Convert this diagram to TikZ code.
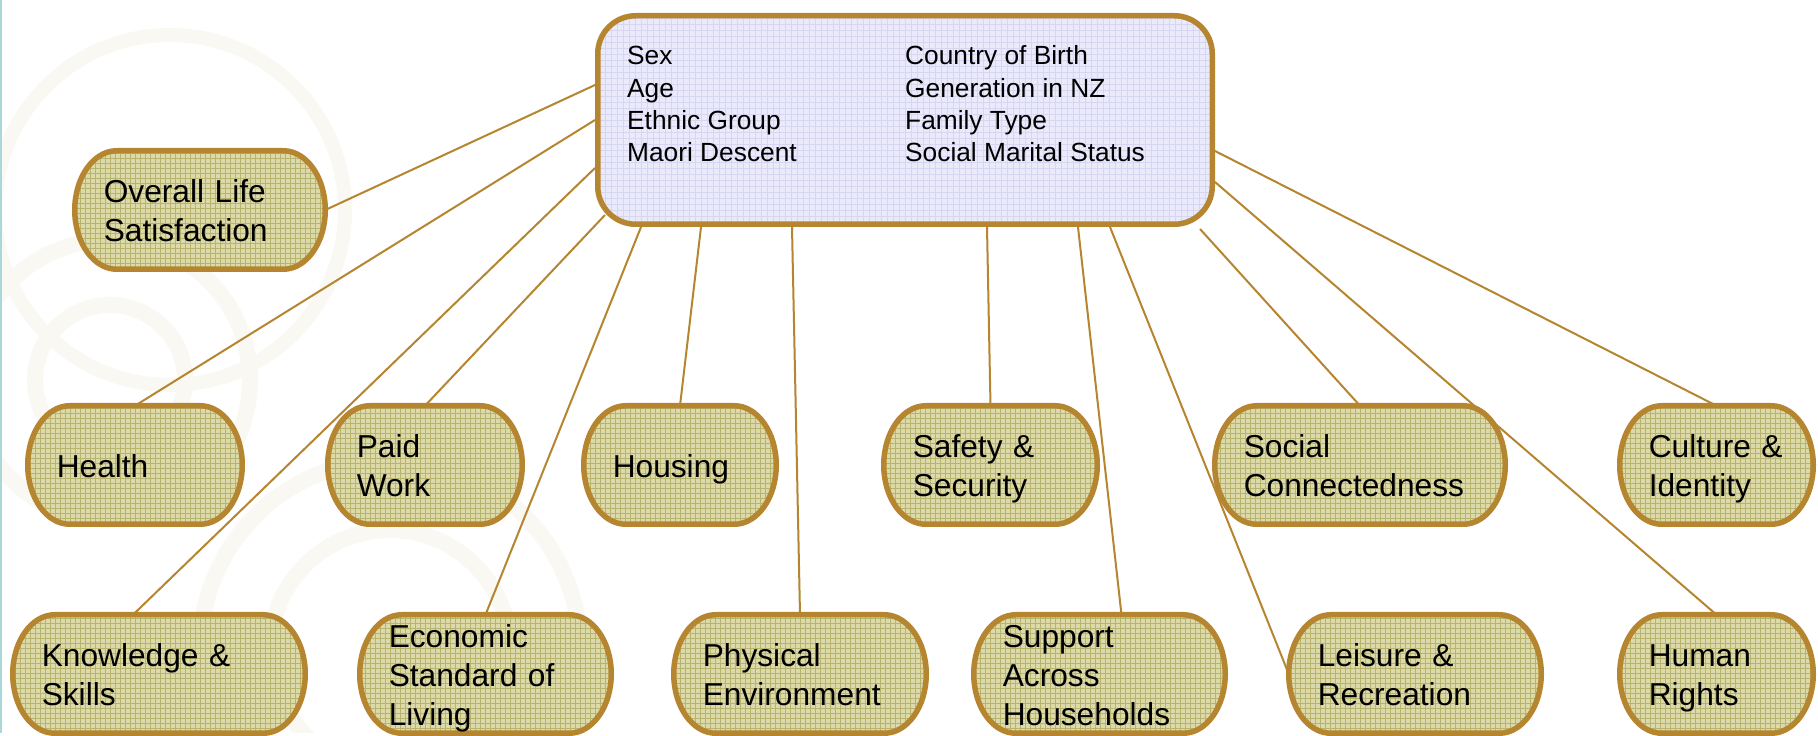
\documentclass[tikz,border=0pt]{standalone}
\usepackage{fontspec}
\setmainfont{Liberation Sans}
\usetikzlibrary{positioning,backgrounds}

\definecolor{ochre}{RGB}{182,133,48}
\definecolor{khaki}{RGB}{220,218,170}
\definecolor{khakigrid}{RGB}{184,180,110}
\definecolor{lavender}{RGB}{234,234,250}
\definecolor{lavendergrid}{RGB}{214,214,243}
\definecolor{swirl}{RGB}{249,248,242}
\definecolor{edgeteal}{RGB}{170,215,215}

\begin{document}
\begin{tikzpicture}[x=1pt,y=1pt,
  topic/.style={rectangle, minimum height=118.5pt, inner xsep=29pt, inner ysep=0pt, outer sep=0pt,
    align=left, font=\fontsize{31.7}{39}\selectfont,
    execute at begin node={\rule[-7pt]{0pt}{39pt}},
    execute at end node={\rule[-7pt]{0pt}{39pt}}},
  topicframe/.style={draw=ochre, line width=5.5pt, fill=khaki,
    path picture={\draw[khakigrid, line width=0.8pt] (path picture bounding box.south west) grid[step=5] (path picture bounding box.north east);}},
  demo/.style={rectangle, draw=ochre, line width=5.5pt, fill=lavender, rounded corners=38pt,
    minimum width=614.5pt, minimum height=208.5pt, inner sep=0pt,
    path picture={\draw[lavendergrid, line width=0.8pt, sharp corners] (path picture bounding box.south west) grid[step=6] (path picture bounding box.north east);}},
  demovars/.style={anchor=base west, inner sep=0pt, font=\fontsize{26.3}{32.3}\selectfont},
  link/.style={draw=ochre, line width=2pt}]

  % demographic variables
  \node[demo] (demo) at (905,613) {};
  \node[demovars] (vars) at (627,668) {\begin{tabular}[t]{@{}p{278pt}@{}l@{}}
    Sex & Country of Birth\\
    Age & Generation in NZ\\
    Ethnic Group & Family Type\\
    Maori Descent & Social Marital Status
  \end{tabular}};

  % outcome domains
  \node[topic, text width=192.5pt] (overall) at (200,523) {Overall Life\\Satisfaction};
  \node[topic, text width=156.5pt] (health) at (135,268) {Health};
  \node[topic, text width=136.5pt] (paid) at (425,268) {Paid\\Work};
  \node[topic, text width=134.5pt] (housing) at (680,268) {Housing};
  \node[topic, text width=155.5pt] (safety) at (990.5,268) {Safety \&\\Security};
  \node[topic, text width=232.5pt] (social) at (1360,268) {Social\\Connectedness};
  \node[topic, text width=135.5pt] (culture) at (1716.5,268) {Culture \&\\Identity};
  \node[topic, text width=234.5pt] (knowledge) at (159,59) {Knowledge \&\\Skills};
  \node[topic, text width=193.5pt] (economic) at (485.5,59) {Economic\\Standard of\\Living};
  \node[topic, text width=194.5pt] (physical) at (800,59) {Physical\\Environment};
  \node[topic, text width=193.5pt] (support) at (1099.5,59) {Support\\Across\\Households};
  \node[topic, text width=194.5pt] (leisure) at (1415,59) {Leisure \&\\Recreation};
  \node[topic, text width=135.5pt] (human) at (1716.5,59) {Human\\Rights};

  \begin{scope}[on background layer]
    % page and faint background rings
    \fill[white] (0,0) rectangle (1818,733);
    \begin{scope}
      \clip (0,0) rectangle (1818,733);
      \draw[swirl, line width=16pt] (110,353) circle (75) (110,353) circle (140);
      \draw[swirl, line width=16pt] (390,83) circle (120) (390,83) circle (190);
      \draw[swirl, line width=14pt] (170,523) circle (175);
    \end{scope}
    \fill[edgeteal] (0,0) rectangle (2,733);
    % domain frames with oval ends
    \foreach \n in {overall,health,paid,housing,safety,social,culture,knowledge,economic,physical,support,leisure,human}
      \path[topicframe] ([xshift=42]\n.north west) -- ([xshift=-42]\n.north east)
        arc[start angle=90, end angle=-90, x radius=42, y radius=59.25]
        -- ([xshift=42]\n.south west)
        arc[start angle=270, end angle=90, x radius=42, y radius=59.25] -- cycle;
  \end{scope}

  % connectors
  \draw[link] ([yshift=35]demo.west) -- (overall.east);
  \draw[link] (demo.west) -- (health.north);
  \draw[link] ([yshift=-48]demo.west) -- ([xshift=-26]knowledge.north);
  \draw[link] ([shift={(10,12)}]demo.south west) -- (paid.north);
  \draw[link] ([xshift=-264]demo.south) -- (economic.north);
  \draw[link] ([xshift=-204]demo.south) -- (housing.north);
  \draw[link] ([xshift=-113]demo.south) -- (physical.north);
  \draw[link] ([xshift=82]demo.south) -- (safety.north);
  \draw[link] ([xshift=173]demo.south) -- ([xshift=22]support.north);
  \draw[link] ([xshift=205]demo.south) -- (leisure.west);
  \draw[link] ([shift={(-15,-2)}]demo.south east) -- (social.north);
  \draw[link] ([yshift=-62]demo.east) -- (human.north);
  \draw[link] ([yshift=-31]demo.east) -- (culture.north);

  \useasboundingbox (0,0) rectangle (1818,733);
\end{tikzpicture}
\end{document}
